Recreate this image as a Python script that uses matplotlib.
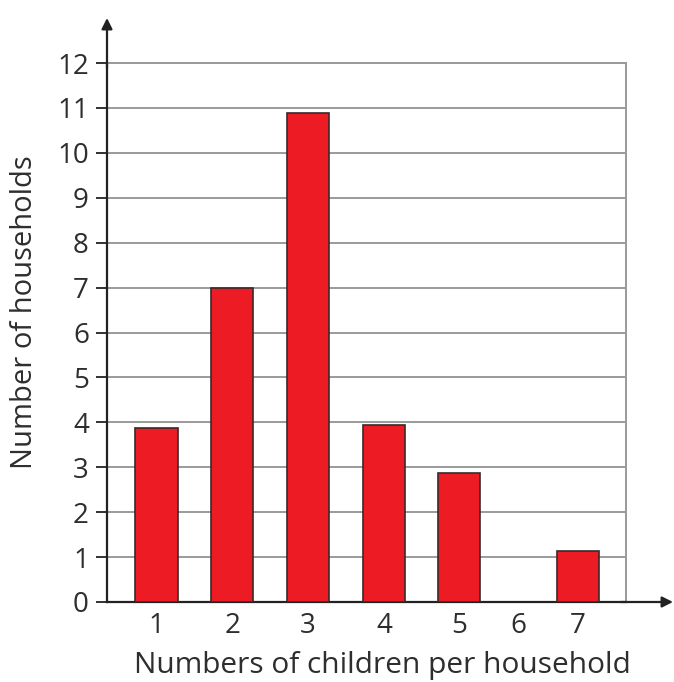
import matplotlib
matplotlib.use("Agg")
import matplotlib.pyplot as plt

# Households by number of children
children = ["1", "2", "3", "4", "5", "6", "7"]
households = [3.88, 7.0, 10.88, 3.93, 2.88, 0.0, 1.14]
# horizontal placement of each category on the axis
positions = [1.0, 2.0, 3.0, 4.0, 4.99, 5.77, 6.56]
y_ticks = list(range(0, 13))

plt.rcParams["font.family"] = ["Open Sans", "DejaVu Sans"]

W, H = 674, 682
fig = plt.figure(figsize=(W / 100, H / 100), dpi=100)
ax = fig.add_axes([107 / W, 80 / H, (626 - 107) / W, (602 - 63) / H])

ax.set_xlim(0.348, 7.195)
ax.set_ylim(0, 12)

ax.set_axisbelow(True)
ax.yaxis.grid(True, color="#9a9a9a", linewidth=1.4)

for pos, val in zip(positions, households):
    if val > 0:
        ax.bar(pos, val, width=0.56, color="#ED1C24", edgecolor="#3a2a2a",
               linewidth=1.2, zorder=3)

text_color = "#2e2e2e"
ax.set_yticks(y_ticks)
ax.set_yticklabels([str(t) for t in y_ticks], fontsize=20, color=text_color)
ax.set_xticks(positions)
ax.set_xticklabels(children, fontsize=20, color=text_color)
ax.tick_params(axis="y", direction="out", length=8, width=1.3, color="#222222", pad=5)
ax.tick_params(axis="x", length=0, pad=7)

for side in ("top", "right"):
    ax.spines[side].set_color("#9a9a9a")
    ax.spines[side].set_linewidth(1.4)
for side in ("left", "bottom"):
    ax.spines[side].set_color("#222222")
    ax.spines[side].set_linewidth(1.6)

# axis arrows beyond the plotting box
ax.annotate("", xy=(0, 1 + 45 / 539), xytext=(0, 0.99), xycoords="axes fraction",
            arrowprops=dict(arrowstyle="-|>", color="#222222", lw=1.6,
                            mutation_scale=16, shrinkA=0, shrinkB=0),
            annotation_clip=False)
ax.annotate("", xy=(1 + 47 / 519, 0), xytext=(0.99, 0), xycoords="axes fraction",
            arrowprops=dict(arrowstyle="-|>", color="#222222", lw=1.6,
                            mutation_scale=16, shrinkA=0, shrinkB=0),
            annotation_clip=False)

# axis titles
fig.text(382 / W, 1 - 673 / H, "Numbers of children per household", fontsize=21.5,
         color=text_color, ha="center", va="baseline")
fig.text(25 / W, 1 - 312 / H, "Number of households", fontsize=21,
         color=text_color, ha="center", va="center", rotation=90)

fig.savefig("out.png", dpi=100, facecolor="white")
